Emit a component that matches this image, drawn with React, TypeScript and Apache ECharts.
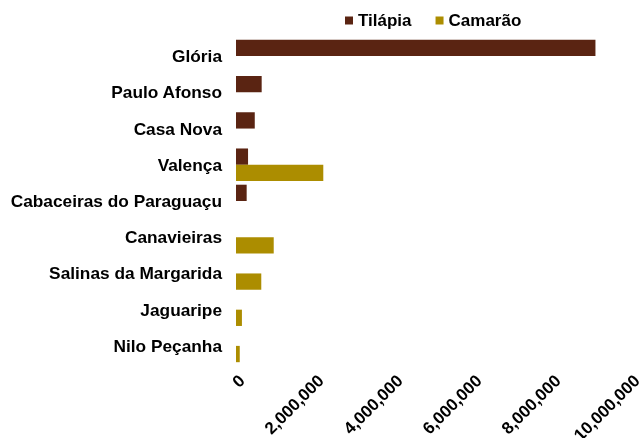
import React, { useEffect, useRef } from "react";
import * as echarts from "echarts";

const categories = [
  "Glória",
  "Paulo Afonso",
  "Casa Nova",
  "Valença",
  "Cabaceiras do Paraguaçu",
  "Canavieiras",
  "Salinas da Margarida",
  "Jaguaripe",
  "Nilo Peçanha",
];
const tilapia = [9100000, 650000, 475000, 305000, 270000, 0, 0, 0, 0];
const camarao = [0, 0, 0, 2210000, 0, 955000, 640000, 150000, 95000];
const seriesNames = ["Tilápia", "Camarão"];
const colors = ["#5A2412", "#AC8D00"];

const FONT = "'Liberation Sans', Arial, sans-serif";

export default function App() {
  const ref = useRef<HTMLDivElement>(null);
  useEffect(() => {
    if (!ref.current) return;
    const chart = echarts.init(ref.current, null, { renderer: "svg" });
    chart.setOption({
      animation: false,
      textStyle: { fontFamily: FONT },
      legend: {
        top: 7,
        left: 340,
        itemWidth: 8,
        itemHeight: 8,
        itemGap: 24,
        icon: "rect",
        textStyle: { fontSize: 17, fontWeight: "bold", color: "#000", fontFamily: FONT },
        data: seriesNames,
      },
      grid: {
        left: 236,
        right: 10,
        top: 38,
        bottom: 74,
        containLabel: false,
        outerBoundsMode: "none",
      },
      xAxis: {
        type: "value",
        min: 0,
        max: 10000000,
        interval: 2000000,
        axisLine: { show: false },
        axisTick: { show: false },
        splitLine: { show: false },
        axisLabel: {
          rotate: 45,
          fontSize: 17,
          fontWeight: "bold",
          color: "#000",
          fontFamily: FONT,
          margin: 8,
          verticalAlign: "top",
          formatter: (v: number) => v.toLocaleString("en-US"),
        },
      },
      yAxis: {
        type: "category",
        inverse: true,
        data: categories,
        axisLine: { show: false },
        axisTick: { show: false },
        axisLabel: {
          fontSize: 17.3,
          fontWeight: "bold",
          color: "#000",
          fontFamily: FONT,
          margin: 14,
        },
      },
      series: [
        {
          name: seriesNames[0],
          type: "bar",
          data: tilapia,
          itemStyle: { color: colors[0] },
          barGap: "0%",
          barCategoryGap: "10%",
        },
        {
          name: seriesNames[1],
          type: "bar",
          data: camarao,
          itemStyle: { color: colors[1] },
          barGap: "0%",
          barCategoryGap: "10%",
        },
      ],
    });
    return () => chart.dispose();
  }, []);
  return (
    <div
      ref={ref}
      style={{ position: "fixed", left: 0, top: 0, width: 641, height: 438 }}
    />
  );
}
